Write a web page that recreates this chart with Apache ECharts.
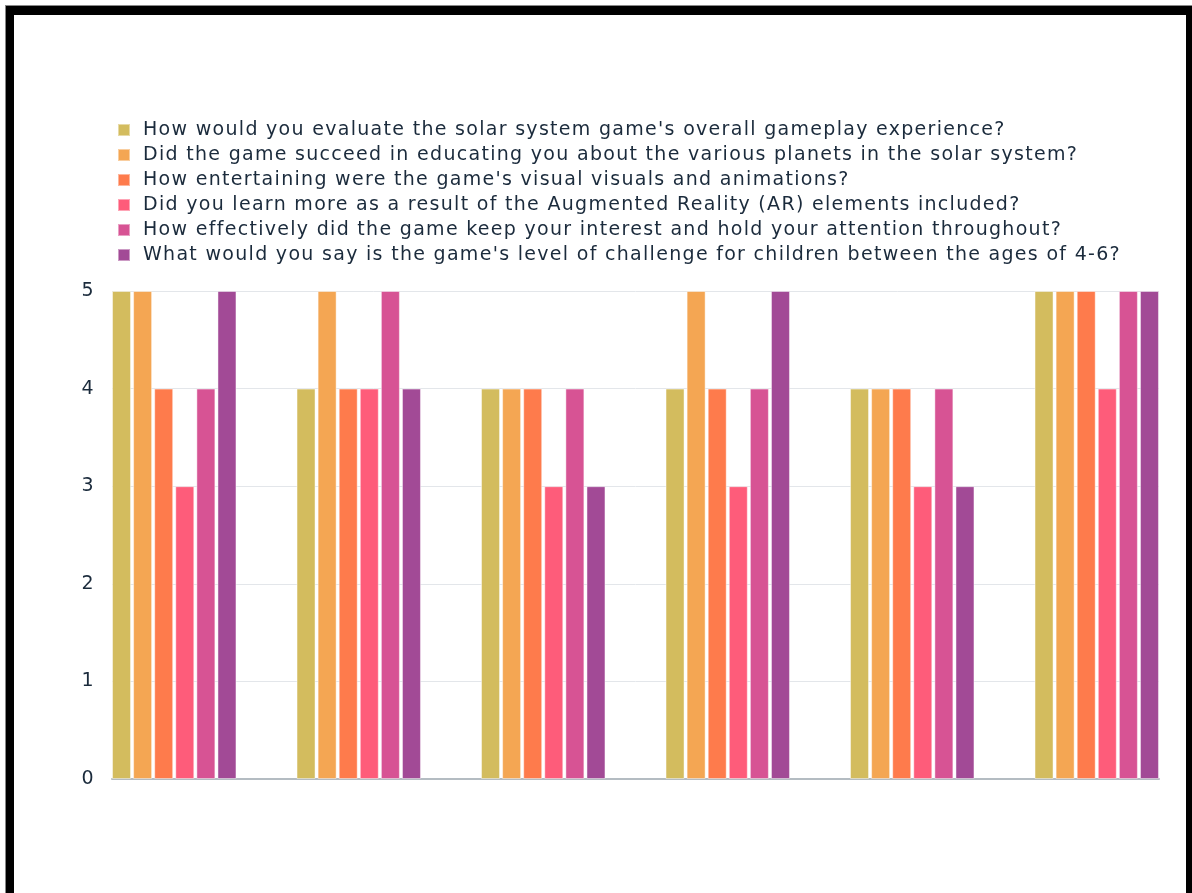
<!DOCTYPE html>
<html>
<head>
<meta charset="utf-8">
<style>
html, body { margin: 0; padding: 0; background: #fff; overflow: hidden; }
#chart { position: absolute; left: 0; top: 0; width: 1192px; height: 893px; }
#frame {
  position: absolute; left: 6px; top: 6px; width: 1172px; height: 900px;
  border-top: 9px solid #000; border-left: 8px solid #000; border-right: 8px solid #000;
  box-shadow: -1px -1px 0 #888; pointer-events: none;
}
</style>
<script src="https://cdn.jsdelivr.net/npm/echarts@6/dist/echarts.min.js"></script>
</head>
<body>
<div id="chart"></div>
<div id="frame"></div>
<script>
// survey questions (legend) and one score per respondent group
const questions = [
  "How would you evaluate the solar system game's overall gameplay experience?",
  "Did the game succeed in educating you about the various planets in the solar system?",
  "How entertaining were the game's visual visuals and animations?",
  "Did you learn more as a result of the Augmented Reality (AR) elements included?",
  "How effectively did the game keep your interest and hold your attention throughout?",
  "What would you say is the game's level of challenge for children between the ages of 4-6?"
];
const respondents = ["1", "2", "3", "4", "5", "6"];
const gameplay    = [5, 4, 4, 4, 4, 5];
const educating   = [5, 5, 4, 5, 4, 5];
const visuals     = [4, 4, 4, 4, 4, 5];
const arElements  = [3, 4, 3, 3, 3, 4];
const interest    = [4, 5, 4, 4, 4, 5];
const challenge   = [5, 4, 3, 5, 3, 5];
const yTicks = [0, 1, 2, 3, 4, 5];

const colors = ["#d3bc5e", "#f4a653", "#fe7b4c", "#fe5c7a", "#d75394", "#a24a96"];
const seriesData = [gameplay, educating, visuals, arElements, interest, challenge];

const textColor = "#1b2b3c";
const font = "DejaVu Sans";

const chart = echarts.init(document.getElementById("chart"), null, { renderer: "canvas" });

const option = {
  animation: false,
  color: colors,
  legend: {
    orient: "vertical",
    left: 112,
    top: 115,
    itemWidth: 12,
    itemHeight: 12,
    itemGap: 5,
    icon: "rect",
    textStyle: { color: textColor, fontFamily: font, fontSize: 19, lineHeight: 20, padding: [0, 0, 0, 8] },
    data: questions
  },
  grid: [
    // axis + gridlines
    { left: 112, right: 33, top: 291, bottom: 114 },
    // bars: bands 184px wide, bars flush with the plot edges
    { left: 82, right: 3, top: 291, bottom: 114 }
  ],
  xAxis: [
    {
      gridIndex: 0, type: "category", data: respondents, boundaryGap: true,
      axisLine: { show: true, lineStyle: { color: "#b4bcc2", width: 2 } },
      axisTick: { show: false }, axisLabel: { show: false }, splitLine: { show: false }
    },
    {
      gridIndex: 1, type: "category", data: respondents,
      axisLine: { show: false }, axisTick: { show: false }, axisLabel: { show: false }
    }
  ],
  yAxis: [
    {
      gridIndex: 0, type: "value", min: 0, max: 5, interval: 1,
      axisLine: { show: false }, axisTick: { show: false },
      axisLabel: { color: textColor, fontFamily: font, fontSize: 19, margin: 17 },
      splitLine: { lineStyle: { color: "#e3e6ea", width: 1 } }
    },
    {
      gridIndex: 1, type: "value", min: 0, max: 5, interval: 1, show: false,
      splitLine: { show: false }
    }
  ],
  series: seriesData.map((d, i) => ({
    name: questions[i],
    type: "bar",
    xAxisIndex: 1,
    yAxisIndex: 1,
    data: d,
    barWidth: 19,
    barGap: "11%",
    itemStyle: { borderColor: "rgba(255,255,255,0.45)", borderWidth: 1 }
  }))
};

chart.setOption(option);

// the original font (Poppins) runs wider than anything installed, so space the letters out a bit
const canvas = chart.getDom().querySelector("canvas");
if (canvas) {
  const ctx = canvas.getContext("2d");
  if ("letterSpacing" in ctx) {
    ctx.letterSpacing = "1.3px";
    chart.setOption(option, true);
  }
}
</script>
</body>
</html>
